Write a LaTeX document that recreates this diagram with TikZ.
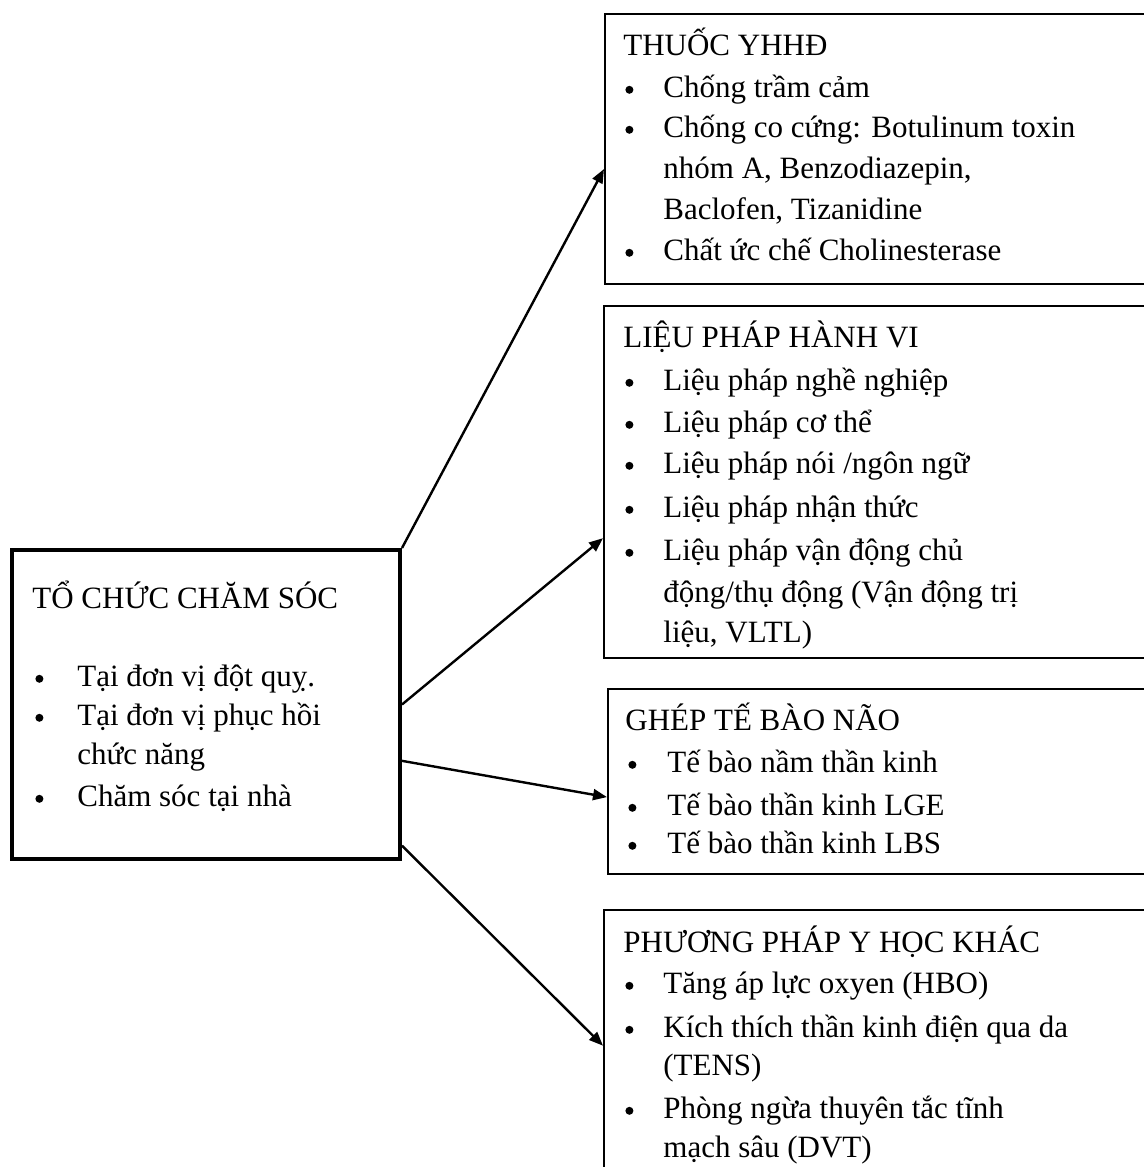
\documentclass[tikz,border=0pt]{standalone}
\usepackage{fontspec}
\setmainfont{Liberation Serif}
\usetikzlibrary{arrows.meta,calc}
% round bullet in a box of given width, so the item text starts at a fixed indent
\newcommand\bul[1]{\makebox[#1][l]{\hspace{0.5pt}\tikz[baseline=0pt]\fill[black] (2pt,3.6pt) circle[radius=2pt];}}
\begin{document}
\begin{tikzpicture}[x=0.5pt,y=-0.5pt,
  box/.style={draw=black,line width=0.9pt,anchor=north west,inner sep=0pt,minimum width=300pt},
  mainbox/.style={draw=black,line width=2pt,anchor=north west,inner sep=0pt,
    minimum width=194pt,minimum height=154.5pt},
  ln/.style={anchor=base west,inner sep=0pt,font=\fontsize{15.5pt}{20pt}\selectfont},
  conn/.style={line width=1.2pt,-{Triangle[length=7pt,width=5.5pt]}}]
\useasboundingbox (0,0) rectangle (1144,1167);
\fill[white] (0,0) rectangle (1144,1167);

% frames
\node[mainbox] (lb) at (10,548) {};
\node[box,minimum height=135pt] (b1) at (604,13) {};
\node[box,minimum height=176pt] (b2) at (603,305) {};
\node[box,minimum height=92.5pt] (b3) at (607,688) {};
\node[box,minimum height=150pt] (b4) at (603,909) {};

% left box
\node[ln] (l0) at (32,608) {TỔ CHỨC CHĂM SÓC};
\node[ln] (l1) at (34,686) {\bul{21.5pt}Tại đơn vị đột quỵ.};
\node[ln] (l2) at (34,725) {\bul{21.5pt}Tại đơn vị phục hồi};
\node[ln] (l3) at (77,764) {chức năng};
\node[ln] (l4) at (34,806) {\bul{21.5pt}Chăm sóc tại nhà};

% box 1
\node[ln] (a0) at (623,55) {THUỐC YHHĐ};
\node[ln] (a1) at (624,97) {\bul{19.5pt}Chống trầm cảm};
\node[ln] (a2) at (624,137) {\bul{19.5pt}Chống co cứng: Botulinum toxin};
\node[ln] (a3) at (663,178) {nhóm A, Benzodiazepin,};
\node[ln] (a4) at (663,219) {Baclofen, Tizanidine};
\node[ln] (a5) at (624,260) {\bul{19.5pt}Chất ức chế Cholinesterase};

% box 2
\node[ln] (c0) at (623,347) {LIỆU PHÁP HÀNH VI};
\node[ln] (c1) at (624,390) {\bul{19.5pt}Liệu pháp nghề nghiệp};
\node[ln] (c2) at (624,432) {\bul{19.5pt}Liệu pháp cơ thể};
\node[ln] (c3) at (624,473) {\bul{19.5pt}Liệu pháp nói /ngôn ngữ};
\node[ln] (c4) at (624,517) {\bul{19.5pt}Liệu pháp nhận thức};
\node[ln] (c5) at (624,560) {\bul{19.5pt}Liệu pháp vận động chủ};
\node[ln] (c6) at (663,602) {động/thụ động (Vận động trị};
\node[ln] (c7) at (663,642) {liệu, VLTL)};

% box 3
\node[ln] (d0) at (625,730) {GHÉP TẾ BÀO NÃO};
\node[ln] (d1) at (627,772) {\bul{20pt}Tế bào nầm thần kinh};
\node[ln] (d2) at (627,815) {\bul{20pt}Tế bào thần kinh LGE};
\node[ln] (d3) at (627,853) {\bul{20pt}Tế bào thần kinh LBS};

% box 4
\node[ln] (e0) at (623,952) {PHƯƠNG PHÁP Y HỌC KHÁC};
\node[ln] (e1) at (624,993) {\bul{19.5pt}Tăng áp lực oxyen (HBO)};
\node[ln] (e2) at (624,1037) {\bul{19.5pt}Kích thích thần kinh điện qua da};
\node[ln] (e3) at (663,1075) {(TENS)};
\node[ln] (e4) at (624,1118) {\bul{19.5pt}Phòng ngừa thuyên tắc tĩnh};
\node[ln] (e5) at (663,1157) {mạch sâu (DVT)};

% connectors
\draw[conn] (lb.north east) -- ($(b1.north west)!0.574!(b1.south west)$);
\draw[conn] (lb.east) -- ($(b2.north west)!0.659!(b2.south west)$);
\draw[conn] ($(lb.north east)!0.68!(lb.south east)$) -- ($(b3.north west)!0.584!(b3.south west)$);
\draw[conn] ($(lb.north east)!0.951!(lb.south east)$) -- ($(b4.north west)!0.453!(b4.south west)$);
\end{tikzpicture}
\end{document}
